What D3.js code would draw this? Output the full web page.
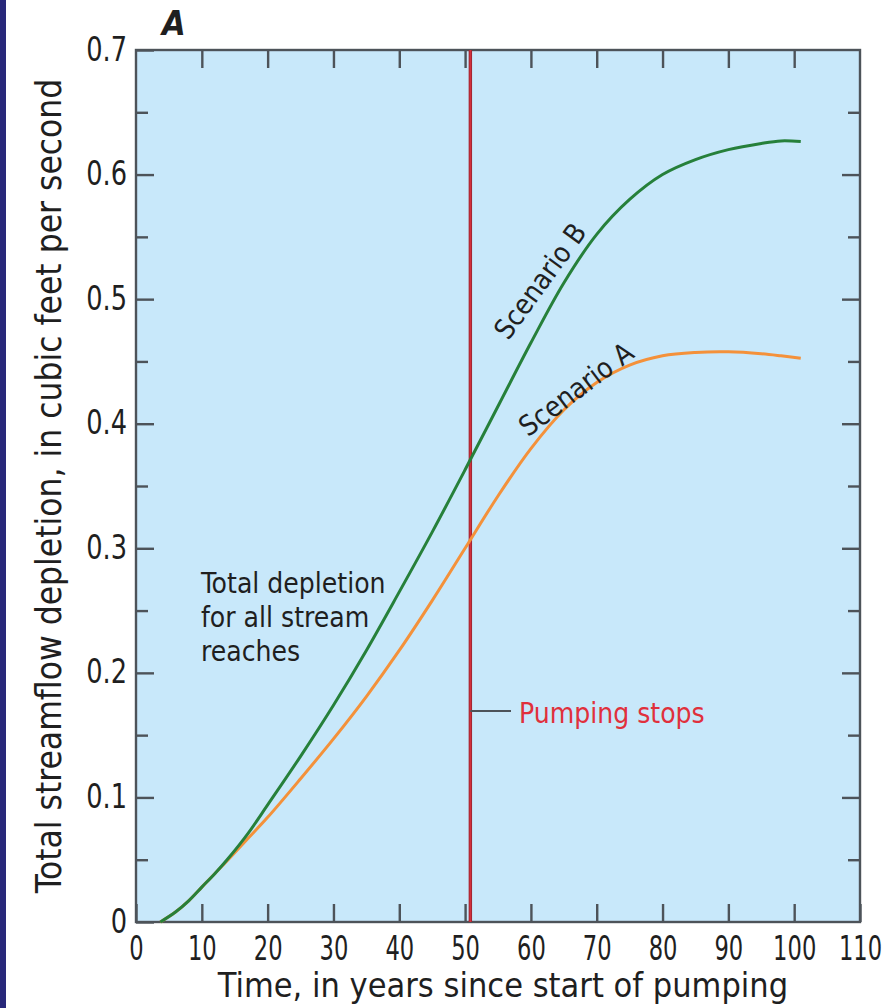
<!DOCTYPE html>
<html>
<head>
<meta charset="utf-8">
<script src="https://cdn.jsdelivr.net/npm/d3@7"></script>
<style>
  html, body { margin: 0; padding: 0; background: #fff; }
  svg { display: block; }
  text { font-family: "DejaVu Sans Condensed", "DejaVu Sans", sans-serif; fill: #1f1f1f; }
  .tick line { stroke: #4d5359; stroke-width: 2.4; }
  .tick text { font-size: 34px; fill: #1f1f1f; }
</style>
</head>
<body>
<div id="chart"></div>
<script>
// years since start of pumping
const years = [3.7, 6, 8, 10, 12, 14, 17, 20, 25, 30, 35, 40, 45, 50, 55, 60, 65, 70, 75, 80, 85, 90, 95, 98, 101];
// total depletion, cubic feet per second
const scenarioA = [0, 0.008, 0.017, 0.028, 0.039, 0.050, 0.067, 0.084, 0.115, 0.147, 0.181, 0.218, 0.258, 0.300, 0.342, 0.380, 0.411, 0.433, 0.447, 0.4545, 0.4572, 0.4577, 0.4562, 0.4545, 0.4525];
const scenarioB = [0, 0.008, 0.017, 0.028, 0.039, 0.051, 0.071, 0.094, 0.133, 0.174, 0.218, 0.265, 0.313, 0.363, 0.414, 0.465, 0.513, 0.552, 0.580, 0.600, 0.612, 0.620, 0.625, 0.627, 0.6265];

const pumpingStopsYear = 50.8;

const xTicks = [0, 10, 20, 30, 40, 50, 60, 70, 80, 90, 100, 110];
const yTicks = [0, 0.1, 0.2, 0.3, 0.4, 0.5, 0.6, 0.7];
const yMinorTicks = [0.05, 0.15, 0.25, 0.35, 0.45, 0.55, 0.65];

const width = 886, height = 1008;
const plotLeft = 136, plotRight = 860, plotTop = 50, plotBottom = 922;

const svg = d3.select("#chart").append("svg")
    .attr("width", width)
    .attr("height", height);

// dark band on the left edge
svg.append("rect").attr("x", 0).attr("y", 0).attr("width", 6).attr("height", height).attr("fill", "#28287a");

const x = d3.scaleLinear().domain([0, 110]).range([plotLeft, plotRight]);
const y = d3.scaleLinear().domain([0, 0.7]).range([plotBottom, plotTop]);

// plot background
svg.append("rect")
    .attr("x", plotLeft).attr("y", plotTop)
    .attr("width", plotRight - plotLeft).attr("height", plotBottom - plotTop)
    .attr("fill", "#c8e8fa");

// ticks (all pointing inward), labels squeezed to look condensed
svg.append("g")
    .attr("transform", `translate(0,${plotBottom})`)
    .call(d3.axisBottom(x).tickValues(xTicks).tickSizeInner(-18).tickSizeOuter(0))
    .call(g => g.select(".domain").remove())
    .call(g => g.selectAll(".tick text")
        .attr("y", 38).attr("dy", 0)
        .attr("transform", "scale(0.74,1)"));

svg.append("g")
    .attr("transform", `translate(0,${plotTop})`)
    .call(d3.axisTop(x).tickValues(xTicks.slice(1, -1)).tickSizeInner(-18).tickSizeOuter(0).tickFormat(""))
    .call(g => g.select(".domain").remove());

svg.append("g")
    .attr("transform", `translate(${plotLeft},0)`)
    .call(d3.axisLeft(y).tickValues(yTicks).tickSizeInner(-18).tickSizeOuter(0)
        .tickFormat(d => d === 0 ? "0" : d3.format(".1f")(d)))
    .call(g => g.select(".domain").remove())
    .call(g => g.selectAll(".tick text")
        .attr("x", -9 / 0.84).attr("dy", 10)
        .attr("transform", "scale(0.84,1)"));

svg.append("g")
    .attr("transform", `translate(${plotLeft},0)`)
    .call(d3.axisLeft(y).tickValues(yMinorTicks).tickSizeInner(-12).tickSizeOuter(0).tickFormat(""))
    .call(g => g.select(".domain").remove());

svg.append("g")
    .attr("transform", `translate(${plotRight},0)`)
    .call(d3.axisRight(y).tickValues(yTicks.slice(1, -1)).tickSizeInner(-18).tickSizeOuter(0).tickFormat(""))
    .call(g => g.select(".domain").remove());

svg.append("g")
    .attr("transform", `translate(${plotRight},0)`)
    .call(d3.axisRight(y).tickValues(yMinorTicks).tickSizeInner(-12).tickSizeOuter(0).tickFormat(""))
    .call(g => g.select(".domain").remove());

// frame
svg.append("rect")
    .attr("x", plotLeft).attr("y", plotTop)
    .attr("width", plotRight - plotLeft).attr("height", plotBottom - plotTop)
    .attr("fill", "none")
    .attr("stroke", "#4d5359")
    .attr("stroke-width", 2.4);

// pumping stops line
svg.append("line")
    .attr("x1", x(pumpingStopsYear)).attr("x2", x(pumpingStopsYear))
    .attr("y1", plotTop).attr("y2", plotBottom)
    .attr("stroke", "#9e2530")
    .attr("stroke-width", 3.4);
svg.append("line")
    .attr("x1", x(pumpingStopsYear)).attr("x2", x(pumpingStopsYear))
    .attr("y1", plotTop).attr("y2", plotBottom)
    .attr("stroke", "#d2303c")
    .attr("stroke-width", 1.6);

const line = d3.line()
    .x((d, i) => x(years[i]))
    .y(d => y(d))
    .curve(d3.curveCatmullRom.alpha(0.5));

svg.append("path")
    .datum(scenarioA)
    .attr("d", line)
    .attr("fill", "none")
    .attr("stroke", "#f4913a")
    .attr("stroke-width", 3);

svg.append("path")
    .datum(scenarioB)
    .attr("d", line)
    .attr("fill", "none")
    .attr("stroke", "#26803a")
    .attr("stroke-width", 3);

// labels
svg.append("text")
    .attr("x", 162).attr("y", 35)
    .style("font-size", "34px")
    .style("font-weight", "bold")
    .style("font-style", "italic")
    .text("A");

svg.append("text")
    .attr("x", 503).attr("y", 997)
    .attr("text-anchor", "middle")
    .style("font-size", "34px")
    .text("Time, in years since start of pumping");

svg.append("text")
    .attr("transform", "translate(61,486) rotate(-90)")
    .attr("text-anchor", "middle")
    .style("font-size", "35px")
    .text("Total streamflow depletion, in cubic feet per second");

const note = svg.append("text")
    .attr("x", 201).attr("y", 593)
    .style("font-size", "28px");
["Total depletion", "for all stream", "reaches"].forEach((s, i) => {
    note.append("tspan").attr("x", 201).attr("dy", i === 0 ? 0 : 34).text(s);
});

svg.append("line")
    .attr("x1", x(pumpingStopsYear)).attr("x2", 511)
    .attr("y1", 711).attr("y2", 711)
    .attr("stroke", "#4d5359")
    .attr("stroke-width", 2);

svg.append("text")
    .attr("x", 519).attr("y", 723)
    .style("font-size", "28px")
    .style("fill", "#e0303c")
    .text("Pumping stops");

svg.append("text")
    .attr("transform", "translate(540,281) rotate(-54)")
    .attr("text-anchor", "middle")
    .attr("dy", "0.35em")
    .style("font-size", "28px")
    .text("Scenario B");

svg.append("text")
    .attr("transform", "translate(576,389) rotate(-37)")
    .attr("text-anchor", "middle")
    .attr("dy", "0.35em")
    .style("font-size", "28px")
    .text("Scenario A");
</script>
</body>
</html>
